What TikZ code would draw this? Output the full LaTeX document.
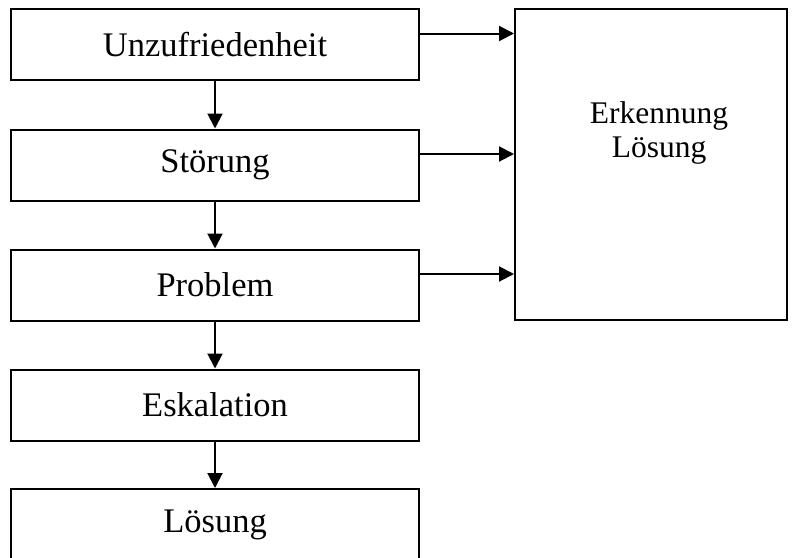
\documentclass[tikz,border=0pt]{standalone}
\usepackage{fontspec}
\setmainfont{Liberation Serif}
\usetikzlibrary{arrows.meta,positioning}

\begin{document}
\begin{tikzpicture}[x=1pt, y=-1pt, >={Triangle[length=15pt,width=15pt]}, line width=2pt,
  stage/.style={draw, minimum width=408pt, minimum height=71pt, inner sep=0pt,
    font=\fontsize{34.5}{40}\selectfont},
  bigbox/.style={draw, minimum width=272pt, minimum height=311pt, inner sep=0pt}]
  \useasboundingbox (0,0) rectangle (792,557);
  % escalation chain on the left
  \node[stage] (unz) at (215,44.5) {Unzufriedenheit};
  \node[stage] (stoer) at (215,165) {Störung};
  \node[stage] (prob) at (215,285) {Problem};
  \node[stage] (eska) at (215,405) {Eskalation};
  \node[stage] (loes) at (215,524.5) {Lösung};
  \draw[->] (unz) -- (stoer);
  \draw[->] (stoer) -- (prob);
  \draw[->] (prob) -- (eska);
  \draw[->] (eska) -- (loes);
  % recognition box on the right
  \node[bigbox] (erk) at (651,164.5) {};
  \node[align=center, font=\fontsize{31.5}{34}\selectfont] (erktext) at (659,133) {Erkennung\\Lösung};
  \coordinate (unz-out) at ([yshift=11pt]unz.east);
  \coordinate (stoer-out) at ([yshift=11pt]stoer.east);
  \coordinate (prob-out) at ([yshift=11pt]prob.east);
  \draw[->] (unz-out) -- (unz-out -| erk.west);
  \draw[->] (stoer-out) -- (stoer-out -| erk.west);
  \draw[->] (prob-out) -- (prob-out -| erk.west);
\end{tikzpicture}
\end{document}
